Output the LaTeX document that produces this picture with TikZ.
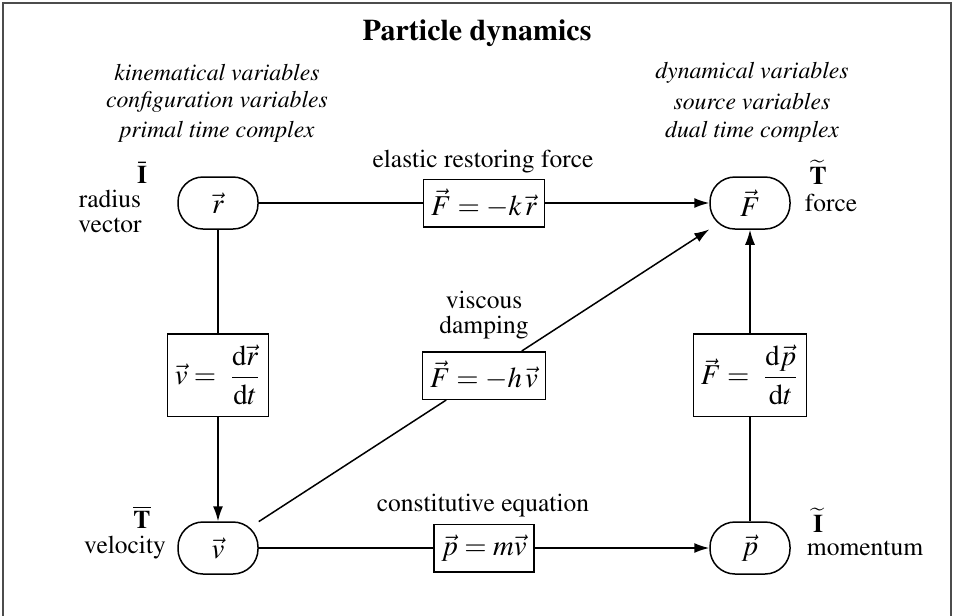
\documentclass[tikz,border=0pt]{standalone}
\usepackage[T1]{fontenc}
\usepackage{mathptmx}
\usetikzlibrary{arrows.meta}
\begin{document}
\begin{tikzpicture}[x=0.4pt,y=-0.4pt, font=\fontsize{10.2}{12}\selectfont,
  var/.style={draw, line width=0.6pt, rounded corners=10pt, minimum width=32pt, minimum height=20.8pt, inner sep=0pt, font=\fontsize{11.5}{13}\selectfont},
  eqbox/.style={draw, line width=0.6pt, fill=white, inner xsep=3pt, inner ysep=2pt, minimum height=19pt, font=\fontsize{11.5}{13}\selectfont},
  fracbox/.style={eqbox, minimum height=33pt},
  conn/.style={line width=0.6pt},
  arr/.style={conn, -{Latex[length=6pt,width=4pt]}},
  lbl/.style={align=center, inner sep=0pt},
  hdr/.style={align=center, inner sep=0pt, font=\fontsize{9.5}{12}\selectfont\itshape}]
\useasboundingbox (0,0) rectangle (954,615);
\draw[line width=0.5pt, black!70] (3,625) -- (3,3) -- (951,3) -- (951,625);

\node[lbl, font=\fontsize{12}{14}\selectfont\bfseries] (title) at (477,33) {Particle dynamics};
\node[hdr] (kin) at (217,73) {kinematical variables};
\node[hdr] (conf) at (217,102) {configuration variables};
\node[hdr] (prim) at (217,132) {primal time complex};
\node[hdr] (dyn) at (752,73) {dynamical variables};
\node[hdr] (src) at (752,102) {source variables};
\node[hdr] (dual) at (752,132) {dual time complex};

\node[var] (r) at (218,203) {$\vec{r}$};
\node[var] (F) at (750,203) {$\vec{F}$};
\node[var] (v) at (218,548) {$\vec{v}$};
\node[var] (p) at (750,548) {$\vec{p}$};

\node[eqbox] (kbox) at (484,203) {$\vec{F} = -k\,\vec{r}$};
\node[eqbox] (mbox) at (484,548) {$\vec{p} = m\vec{v}$};
\node[eqbox] (hbox) at (484,375.5) {$\vec{F} = -h\,\vec{v}$};
\node[fracbox] (vbox) at (218,375) {$\vec{v} = \;{\displaystyle\frac{\mathrm{d}\vec{r}}{\mathrm{d}t}}$};
\node[fracbox] (pbox) at (750,375) {$\vec{F} = \;{\displaystyle\frac{\mathrm{d}\vec{p}}{\mathrm{d}t}}$};

\draw[conn] (r) -- (kbox);
\draw[arr] (kbox) -- (F);
\draw[conn] (r) -- (vbox);
\draw[arr] (vbox) -- (v);
\draw[conn] (v) -- (mbox);
\draw[arr] (mbox) -- (p);
\draw[conn] (p) -- (pbox);
\draw[arr] (pbox) -- (F);
\draw[conn] (v) -- (hbox);
\draw[arr] (hbox) -- (F);

\node[lbl] (Ibar) at (142,173) {$\bar{\mathbf{I}}$};
\node[lbl] (rlab) at (110,211) {radius\\[-2pt]vector};
\node[lbl] (Tbar) at (142,517) {$\overline{\mathbf{T}}$};
\node[lbl] (vlab) at (125,548) {velocity};
\node[lbl] (Ttil) at (818,172) {$\widetilde{\mathbf{T}}$};
\node[lbl] (Flab) at (831,203) {force};
\node[lbl] (Itil) at (818,520) {$\widetilde{\mathbf{I}}$};
\node[lbl] (plab) at (865,548) {momentum};
\node[lbl] (klab) at (483,162) {elastic restoring force};
\node[lbl] (hlab) at (484,315) {viscous\\[-2pt]damping};
\node[lbl] (mlab) at (483,506) {constitutive equation};
\end{tikzpicture}
\end{document}
